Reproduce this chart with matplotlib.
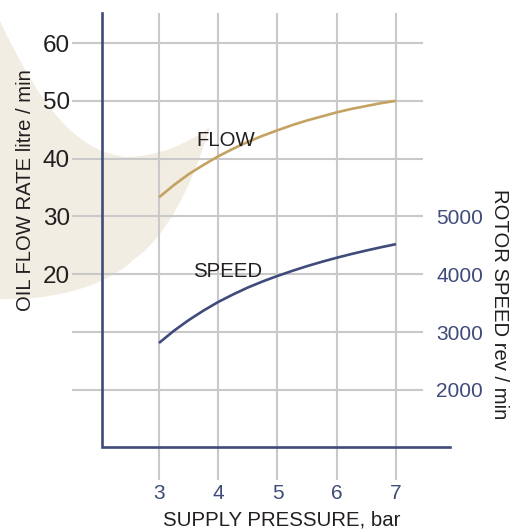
import numpy as np
import matplotlib
matplotlib.use("Agg")
import matplotlib.pyplot as plt
import matplotlib.transforms as mtransforms
from matplotlib.path import Path
from matplotlib.patches import PathPatch
from matplotlib import font_manager

# data
pressure = [3, 3.25, 3.5, 3.75, 4, 4.25, 4.5, 4.75, 5,
            5.25, 5.5, 5.75, 6, 6.25, 6.5, 6.75, 7]
flow = [33.3, 35.4, 37.3, 38.9, 40.4, 41.7, 42.9, 43.95, 44.9,
        45.8, 46.6, 47.3, 48.0, 48.6, 49.1, 49.6, 50.0]                 # litre / min
speed = [2810, 3020, 3205, 3370, 3520, 3650, 3770, 3875, 3970,
         4058, 4140, 4215, 4285, 4350, 4410, 4467, 4520]                # rev / min

x_ticks = [3, 4, 5, 6, 7]
flow_ticks = [0, 10, 20, 30, 40, 50, 60]
flow_labels = ["", "", "20", "30", "40", "50", "60"]
speed_ticks = [2000, 3000, 4000, 5000]

# colours
navy = "#3f4b7a"
tan = "#c4a261"
grid_col = "#c9c9c9"
beige = "#f2ede2"
ink = "#231f20"

plt.rcParams["font.family"] = ["Liberation Sans", "DejaVu Sans"]
names = {f.name for f in font_manager.fontManager.ttflist}
if "Liberation Sans Narrow" in names:
    narrow, narrow_size = "Liberation Sans Narrow", 19
else:
    narrow, narrow_size = "Liberation Sans", 17.5

W, H = 515, 530
fig = plt.figure(figsize=(W / 100, H / 100), dpi=100)
ax = fig.add_axes([72 / W, 1 - 480 / H, (423 - 72) / W, (480 - 13) / H])
ax.patch.set_visible(False)

xlo, xhi = 1.532, 7.456
ylo, yhi = -15.6, 65.19
ax.set_xlim(xlo, xhi)
ax.set_ylim(ylo, yhi)

for s in ax.spines.values():
    s.set_visible(False)

ax.set_xticks(x_ticks)
ax.set_yticks(flow_ticks)
ax.set_yticklabels(flow_labels, fontfamily=narrow, fontsize=narrow_size, color=ink)
ax.tick_params(axis="y", length=0, pad=1.5)
ax.tick_params(axis="x", length=0, pad=3, labelsize=15, labelcolor=navy)
ax.grid(True, color=grid_col, linewidth=1.5, zorder=1)
ax.set_axisbelow(True)

# right axis: rotor speed
ax2 = ax.twinx()
ax2.set_ylim((ylo + 20) * 100, (yhi + 20) * 100)
for s in ax2.spines.values():
    s.set_visible(False)
ax2.set_yticks(speed_ticks)
ax2.tick_params(axis="y", length=0, pad=9.5, labelsize=15, labelcolor=navy)

# background swoosh (pixel coords, y from top)
verts = [(-2, 17), (35, 95), (70, 150), (125, 157),
         (160, 157), (190, 142), (210, 127),
         (200, 160), (175, 232), (133, 260),
         (110, 283), (60, 301), (-2, 299),
         (-2, 17)]
codes = [Path.MOVETO] + [Path.CURVE4] * 12 + [Path.CLOSEPOLY]
px = mtransforms.Affine2D().scale(1 / W, -1 / H).translate(0, 1) + fig.transFigure
ax.add_patch(PathPatch(Path(verts, codes), facecolor=beige, edgecolor="none",
                       transform=px, clip_on=False, zorder=0))

# curves
ax.plot(pressure, flow, color=tan, linewidth=1.9, zorder=4, solid_capstyle="butt")
ax2.plot(pressure, speed, color=navy, linewidth=1.9, zorder=4, solid_capstyle="butt")

# navy axis frame
ax.plot([2.03, 2.03, 7.91], [yhi, -9.84, -9.84], color=navy, linewidth=1.9,
        clip_on=False, zorder=5, solid_joinstyle="miter")

ax.text(4.13, 43.2, "FLOW", fontsize=14.7, color=ink, ha="center", va="center", zorder=6)
ax.text(4.15, 20.4, "SPEED", fontsize=14.7, color=ink, ha="center", va="center", zorder=6)

fig.text(282 / W, 1 - 520 / H, "SUPPLY PRESSURE, bar", fontsize=14.7, color=ink,
         ha="center", va="center")
fig.text(26 / W, 1 - 190 / H, "OIL FLOW RATE litre / min", fontsize=14.6, color=ink,
         rotation=90, ha="center", va="center")
fig.text(499 / W, 1 - 304 / H, "ROTOR SPEED rev / min", fontsize=14.6, color=ink,
         rotation=-90, ha="center", va="center")

fig.savefig("out.png", dpi=100)
